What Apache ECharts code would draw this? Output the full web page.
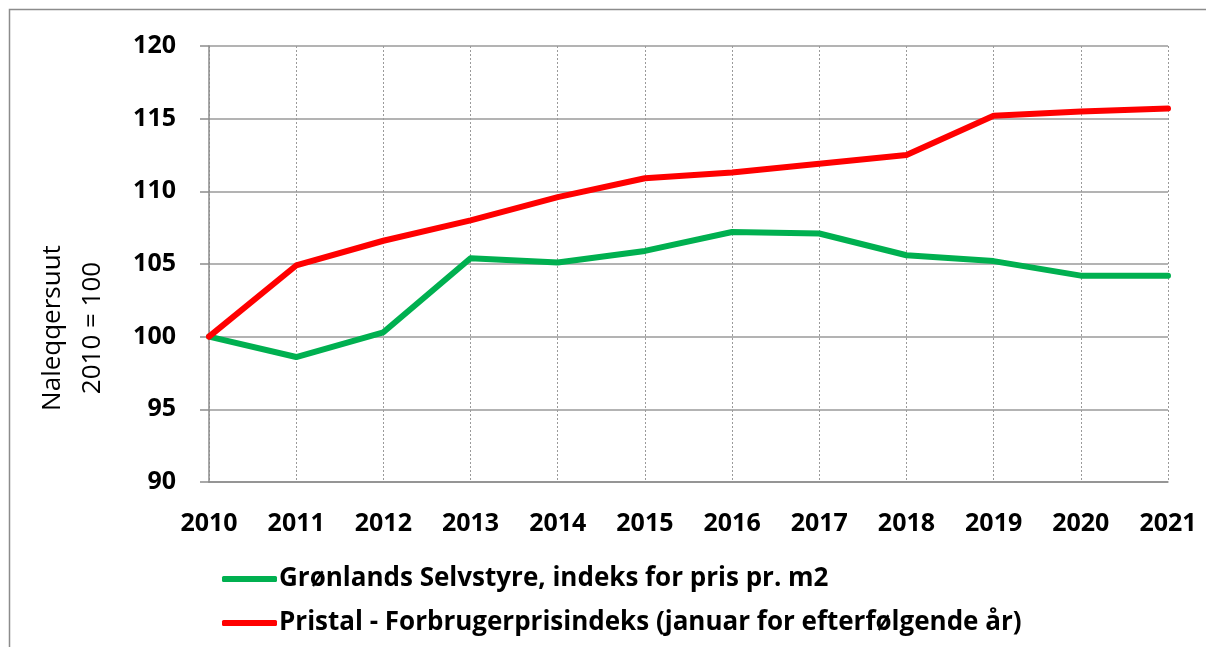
<!DOCTYPE html>
<html>
<head>
<meta charset="utf-8">
<script src="https://cdn.jsdelivr.net/npm/echarts@6/dist/echarts.min.js"></script>
<style>
  html, body { margin: 0; padding: 0; background: #ffffff; }
  #chart { width: 1206px; height: 647px; }
</style>
</head>
<body>
<div id="chart"></div>
<script>
// Years on the category axis
const years = ['2010', '2011', '2012', '2013', '2014', '2015', '2016', '2017', '2018', '2019', '2020', '2021'];

// Index series, 2010 = 100
const selvstyreIndex = [100, 98.6, 100.3, 105.4, 105.1, 105.9, 107.2, 107.1, 105.6, 105.2, 104.2, 104.2];
const forbrugerprisIndex = [100, 104.9, 106.6, 108.0, 109.6, 110.9, 111.3, 111.9, 112.5, 115.2, 115.5, 115.7];

// Series names shown in the legend
const seriesNames = [
  'Grønlands Selvstyre, indeks for pris pr. m2',
  'Pristal - Forbrugerprisindeks (januar for efterfølgende år)'
];

// Value axis title (two lines)
const yTitle = 'Naleqqersuut\n2010 = 100';

const baseFont = '"Open Sans", Lato, sans-serif';

const chart = echarts.init(document.getElementById('chart'), null, { renderer: 'canvas' });

chart.setOption({
  backgroundColor: '#ffffff',
  animation: false,
  graphic: [
    {
      type: 'rect',
      left: 7, top: 7,
      shape: { width: 1400, height: 800 },
      style: { fill: 'none', stroke: '#8c8c8c', lineWidth: 1.5 },
      silent: true
    },
    {
      type: 'text',
      x: 73, y: 328,
      rotation: Math.PI / 2,
      style: {
        text: yTitle,
        font: '26px "Open Sans", Lato, sans-serif',
        fill: '#000',
        align: 'center',
        verticalAlign: 'middle',
        lineHeight: 40
      },
      silent: true
    }
  ],
  grid: { left: 209, right: 38, top: 46, bottom: 165 },
  legend: {
    orient: 'vertical',
    left: 217, top: 559,
    itemWidth: 55, itemHeight: 6,
    itemGap: 14,
    icon: 'roundRect',
    textStyle: { fontFamily: baseFont, fontWeight: 'bold', fontSize: 26, lineHeight: 30, color: '#000', padding: [0, 0, 0, -3] },
    data: seriesNames
  },
  xAxis: {
    type: 'category',
    data: years,
    boundaryGap: false,
    axisLine: { lineStyle: { color: '#8c8c8c', width: 1.5 } },
    axisTick: { show: false },
    axisLabel: { fontFamily: baseFont, fontWeight: 'bold', fontSize: 25, color: '#000', margin: 29 },
    splitLine: { show: true, lineStyle: { color: '#9a9a9a', type: [2, 2], width: 1 } }
  },
  yAxis: {
    type: 'value',
    min: 90, max: 120, interval: 5,
    axisLine: { show: true, lineStyle: { color: '#8c8c8c', width: 1.5 } },
    axisTick: { show: true, length: 9, lineStyle: { color: '#8c8c8c', width: 1.5 } },
    axisLabel: { fontFamily: baseFont, fontWeight: 'bold', fontSize: 25, color: '#000', margin: 33 },
    splitLine: { show: true, lineStyle: { color: '#9a9a9a', width: 1.5 } }
  },
  series: [
    {
      name: seriesNames[0],
      type: 'line',
      data: selvstyreIndex,
      symbol: 'none',
      lineStyle: { color: '#00b050', width: 6, cap: 'round', join: 'round' },
      itemStyle: { color: '#00b050' }
    },
    {
      name: seriesNames[1],
      type: 'line',
      data: forbrugerprisIndex,
      symbol: 'none',
      lineStyle: { color: '#ff0000', width: 6, cap: 'round', join: 'round' },
      itemStyle: { color: '#ff0000' }
    }
  ]
});
</script>
</body>
</html>
